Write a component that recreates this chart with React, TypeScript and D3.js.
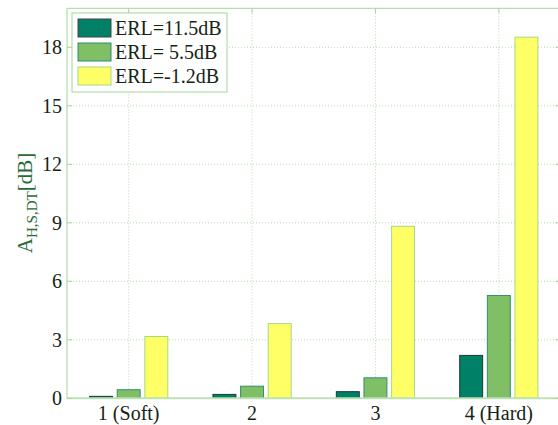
import React from 'react';
import * as d3 from 'd3';

// categories and series
const categories = ['1 (Soft)', '2', '3', '4 (Hard)'];
const seriesNames = ['ERL=11.5dB', 'ERL= 5.5dB', 'ERL=-1.2dB'];
const erl115 = [0.1, 0.2, 0.34, 2.2];
const erl55 = [0.44, 0.62, 1.05, 5.27];
const erlm12 = [3.17, 3.83, 8.82, 18.52];
const yTicks = [0, 3, 6, 9, 12, 15, 18];

const series = [erl115, erl55, erlm12];
// MATLAB "summer" colormap
const fills = ['#008066', '#80bf66', '#ffff66'];
const strokes = ['#1c3a30', '#2f8f6f', '#a6d88a'];

const W = 558;
const H = 425;
const margin = { left: 67, top: 8.3, right: -2.5, bottom: 26.7 };
const axisColor = '#a3d69b';
const gridColor = '#b5dcae';
const textColor = '#142414';
const font = "'Liberation Serif', 'DejaVu Serif', serif";

export default function App() {
  const x = d3.scaleLinear().domain([0.5, 4.5]).range([margin.left, W - margin.right]);
  const y = d3.scaleLinear().domain([0, 20]).range([H - margin.bottom, margin.top]);
  const unit = x(1) - x(0);
  const barW = 0.186 * unit;
  const offset = 0.224;

  const x0 = x(0.5);
  const x1 = x(4.5);
  const y0 = y(0);
  const yTop = y(20);

  return (
    <svg
      width={W}
      height={H}
      style={{ position: 'absolute', left: 0, top: 0, background: '#fff', fontFamily: font }}
    >
      {/* grid */}
      {yTicks.filter((t) => t > 0).map((t) => (
        <line key={'gy' + t} x1={x0} x2={x1} y1={y(t)} y2={y(t)}
          stroke={gridColor} strokeWidth={1} strokeDasharray="1,2" />
      ))}
      {categories.map((c, i) => (
        <line key={'gx' + i} x1={x(i + 1)} x2={x(i + 1)} y1={y0} y2={yTop}
          stroke={gridColor} strokeWidth={1} strokeDasharray="1,2" />
      ))}

      {/* bars */}
      {series.map((vals, s) =>
        vals.map((v, i) => {
          const cx = x(i + 1 + (s - 1) * offset);
          return (
            <rect key={`b${s}-${i}`} x={cx - barW / 2} y={y(v)} width={barW}
              height={y0 - y(v)} fill={fills[s]} stroke={strokes[s]} strokeWidth={1} />
          );
        })
      )}

      {/* axes box */}
      <line x1={x0} x2={x1} y1={yTop} y2={yTop} stroke={axisColor} strokeWidth={1} />
      <line x1={x0} x2={x0} y1={yTop} y2={y0} stroke={axisColor} strokeWidth={1} />
      <line x1={x1} x2={x1} y1={yTop} y2={y0} stroke={axisColor} strokeWidth={1} />
      <line x1={x0} x2={x1} y1={y0} y2={y0} stroke="#bde3b5" strokeWidth={2} />

      {/* y ticks */}
      {yTicks.map((t) => (
        <g key={'ty' + t}>
          <line x1={x0} x2={x0 + 5} y1={y(t)} y2={y(t)} stroke={axisColor} />
          <line x1={x1 - 5} x2={x1} y1={y(t)} y2={y(t)} stroke={axisColor} />
          <text x={x0 - 5} y={y(t)} dy="0.35em" textAnchor="end" fontSize={20} fill={textColor}>
            {t}
          </text>
        </g>
      ))}

      {/* x ticks */}
      {categories.map((c, i) => (
        <g key={'tx' + i}>
          <line x1={x(i + 1)} x2={x(i + 1)} y1={yTop} y2={yTop + 5} stroke={axisColor} />
          <text x={x(i + 1)} y={y0 + 22} textAnchor="middle" fontSize={20} fill={textColor}>
            {c}
          </text>
        </g>
      ))}

      {/* y label */}
      <text transform={`translate(32, 203) rotate(-90)`} textAnchor="middle" fill="#2a6a38" fontSize={21}>
        <tspan>A</tspan>
        <tspan fontSize={15} dy={5}>H,S,DT</tspan>
        <tspan dy={-5}>[dB]</tspan>
      </text>

      {/* legend */}
      <g>
        <rect x={72} y={13} width={155} height={79} fill="#fff" stroke={axisColor} strokeWidth={1} />
        {seriesNames.map((n, s) => (
          <g key={'lg' + s} transform={`translate(78, ${19 + s * 24})`}>
            <rect x={0} y={0} width={33} height={18} fill={fills[s]} stroke={s === 0 ? '#444' : strokes[s]} />
            <text x={37} y={9} dy="0.36em" fontSize={20} fill={textColor}>
              {n}
            </text>
          </g>
        ))}
      </g>
    </svg>
  );
}
